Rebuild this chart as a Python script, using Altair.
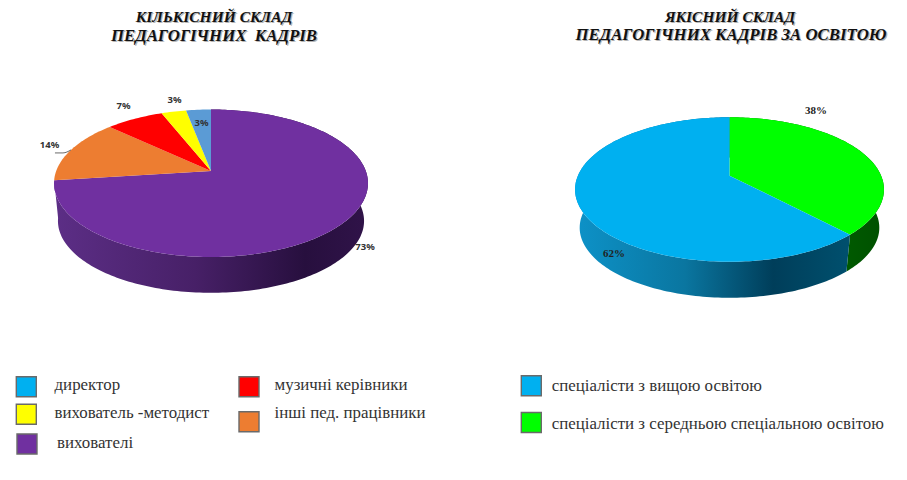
import math
import altair as alt

# ---- data ----
staff_names = ["вихователі", "інші пед. працівники", "музичні керівники", "вихователь -методист", "директор"]
staff_values = [73, 14, 7, 3, 3]
staff_colors = ["#7030a0", "#ed7d31", "#ff0000", "#ffff00", "#5b9bd5"]
edu_names = ["спеціалісти з середньою спеціальною освітою", "спеціалісти з вищою освітою"]
edu_values = [38, 62]
edu_colors = ["#00ff00", "#00b0f0"]
title_left = ["КІЛЬКІСНИЙ СКЛАД", "ПЕДАГОГІЧНИХ\u00a0\u00a0КАДРІВ"]
title_right = ["ЯКІСНИЙ СКЛАД", "ПЕДАГОГІЧНИХ КАДРІВ ЗА ОСВІТОЮ"]

W, H = 891, 456
OX, OY = 8, 16
X = alt.X("x:Q", scale=alt.Scale(domain=[OX, OX + W]), axis=None)
Y = alt.Y("y:Q", scale=alt.Scale(domain=[OY + H, OY]), axis=None)


def grad(stops):
    return alt.Gradient(gradient="linear", x1=0, x2=1, y1=0, y2=0,
                        stops=[alt.GradientStop(offset=o, color=c) for o, c in stops])


def rim(g, turn, lower=False):
    """Perspective projection of a rim point; turn runs clockwise from the top."""
    t = 2 * math.pi * turn
    u, v = math.sin(t), math.cos(t)
    w = 1 + g["k"] * v
    a = g["A"] * (g["s"] if lower else 1)
    b = g["B"] * (g["s"] if lower else 1)
    y0 = g["cy"] + g["d"] if lower else g["cy"]
    return [g["cx"] + a * u / w, y0 - b * v / w]


def polygon(coords, **style):
    feature = {"type": "Feature", "properties": {},
               "geometry": {"type": "Polygon", "coordinates": [coords + [coords[0]]]}}
    return alt.Chart(alt.Data(values=[feature])).mark_geoshape(strokeWidth=0, **style).encode().project(
        type="identity", scale=1, translate=[-OX, -OY])


def pie(g, values, colors, walls):
    total = sum(values)
    layers, tops = [], []
    acc = 0
    for val, col, wall in zip(values, colors, walls):
        t0, t1 = acc / total, (acc + val) / total
        n = max(4, int(val * 3))
        ts = [t0 + (t1 - t0) * i / n for i in range(n + 1)]
        if wall:
            up = [rim(g, t) for t in ts]
            lo = [rim(g, t, True) for t in reversed(ts)]
            layers.append(polygon(up + lo, fill=grad(wall)))
        tops.append(polygon([[g["cx"], g["cy"]]] + [rim(g, t) for t in ts], fill=col))
        acc += val
    return layers + tops


def text(rows, **style):
    return alt.Chart(alt.Data(values=rows)).mark_text(**style).encode(x=X, y=Y, text="t:N")


left = dict(cx=211, cy=171, A=154.8, B=71.7, k=0.166, s=0.975, d=38)
right = dict(cx=729.5, cy=175.7, A=151.6, B=69.6, k=0.191, s=0.97, d=38.6)

purple_wall = [(0, "#5c2e86"), (0.45, "#472067"), (0.8, "#270f3e"), (1, "#301349")]
blue_wall = [(0, "#0d92c8"), (0.4, "#0a76a0"), (0.72, "#003e5a"), (1, "#00506e")]
green_wall = [(0, "#007800"), (1, "#005000")]

layers = []
layers += pie(left, staff_values, staff_colors, [purple_wall, None, None, None, None])
layers += pie(right, edu_values, edu_colors, [green_wall, blue_wall])

# leader line of the 14 % label
rp = rim(left, (staff_values[0] + staff_values[1] / 2) / 100)
layers.append(alt.Chart(alt.Data(values=[
    {"x": rp[0], "y": rp[1]}, {"x": rp[0] - 8, "y": rp[1] + 3}, {"x": rp[0] - 16, "y": rp[1] + 3}]))
    .mark_line(color="#444444", strokeWidth=0.8, interpolate="monotone").encode(x=X, y=Y))

# percent labels
sans = dict(font="Noto Sans", fontSize=9.5, fontWeight="bold", color="#333333", align="center", baseline="middle")
serif = dict(font="Liberation Serif", fontSize=11, fontWeight="bold", color="#222222", align="center", baseline="middle")
layers.append(text([
    {"x": 365, "y": 247, "t": f"{staff_values[0]}%"},
    {"x": 49.5, "y": 144.5, "t": f"{staff_values[1]}%"},
    {"x": 123.5, "y": 106, "t": f"{staff_values[2]}%"},
    {"x": 174.5, "y": 100, "t": f"{staff_values[3]}%"},
    {"x": 201.5, "y": 123, "t": f"{staff_values[4]}%"}], **sans))
layers.append(text([
    {"x": 816, "y": 111, "t": f"{edu_values[0]}%"},
    {"x": 614, "y": 254, "t": f"{edu_values[1]}%"}], **serif))

# titles with their soft shadow
for dx, col, op in [(1.2, "#777777", 0.55), (0, "#111111", 1)]:
    style = dict(font="Liberation Serif", fontWeight="bold", fontStyle="italic",
                 color=col, opacity=op, align="center", baseline="middle")
    layers.append(text([
        {"x": 214 + dx, "y": 16.5 + dx, "t": title_left[0]},
        {"x": 730 + dx, "y": 16.5 + dx, "t": title_right[0]}], fontSize=15.5, **style))
    layers.append(text([
        {"x": 214 + dx, "y": 35.5 + dx, "t": title_left[1]},
        {"x": 731 + dx, "y": 35 + dx, "t": title_right[1]}], fontSize=16.8, **style))

# legend
legend = [
    (staff_names[4], "#00b0f0", 26.3, 386.7, 54.5, 385),
    (staff_names[3], staff_colors[3], 26.3, 414.3, 54.5, 413),
    (staff_names[0], staff_colors[0], 27, 444, 57, 443),
    (staff_names[2], staff_colors[2], 249, 386.7, 274.5, 385),
    (staff_names[1], staff_colors[1], 249, 421.7, 274.5, 413),
    (edu_names[1], edu_colors[1], 531.3, 385.7, 551.7, 385.7),
    (edu_names[0], edu_colors[0], 531.3, 422.5, 551.7, 423.5),
]
layers.append(alt.Chart(alt.Data(values=[{"x": l[2], "y": l[3], "c": l[1]} for l in legend]))
              .mark_square(size=400, opacity=1, stroke="#6a6a6a", strokeWidth=1.4)
              .encode(x=X, y=Y, fill=alt.Fill("c:N", scale=None)))
layers.append(text([{"x": l[4], "y": l[5], "t": l[0]} for l in legend],
                   font="Liberation Serif", fontSize=16.9, color="#333333", align="left", baseline="middle"))

chart = alt.layer(*layers).properties(
    width=W, height=H,
    padding={"left": 0, "top": 8, "right": 0, "bottom": 0},
    autosize=alt.AutoSizeParams(type="none"),
).configure_view(stroke=None)
chart.save("out.html", embed_options={"renderer": "svg", "actions": False})
